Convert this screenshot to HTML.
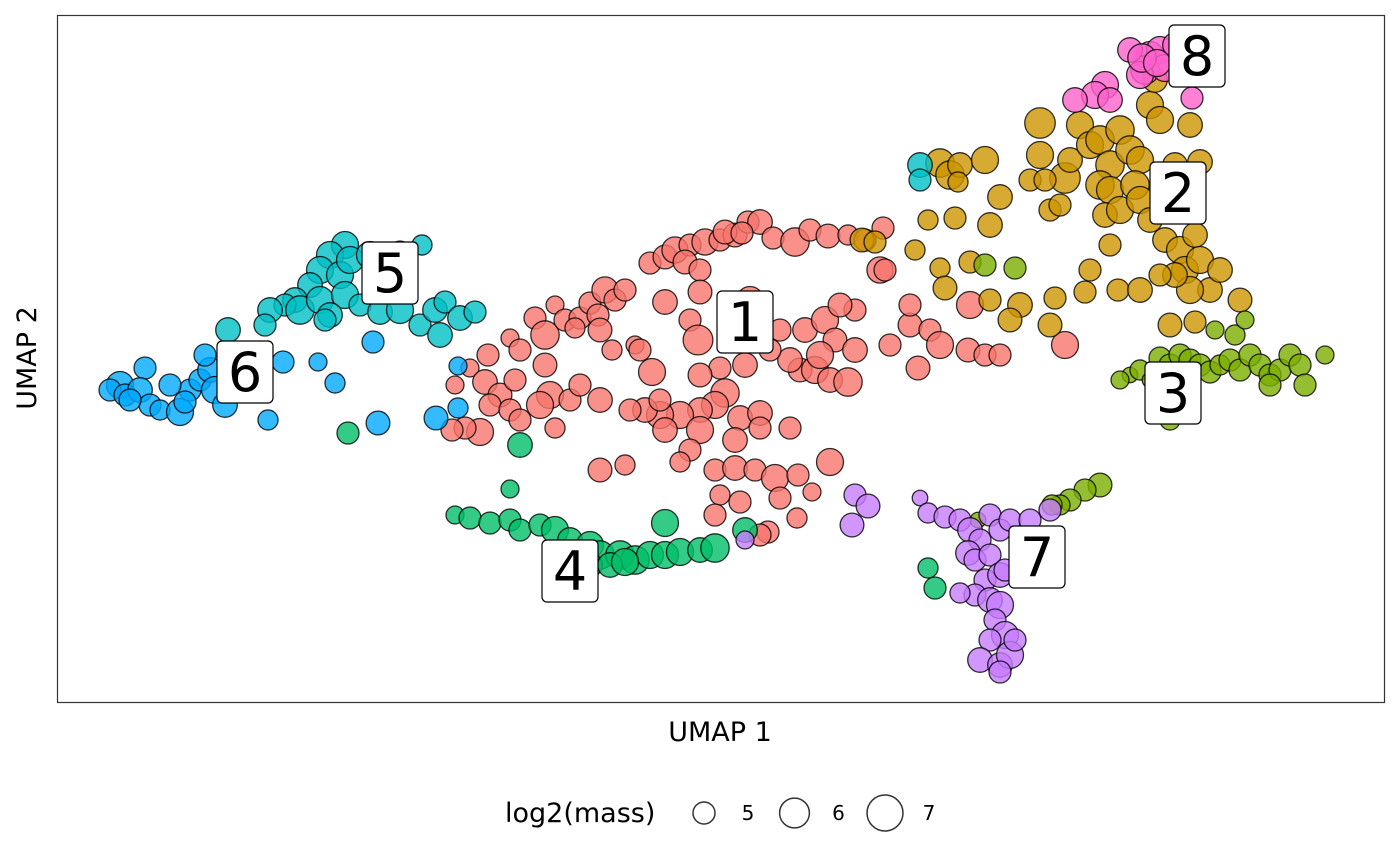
<!DOCTYPE html>
<html><head><meta charset="utf-8"><style>
html,body{margin:0;padding:0;background:#fff;}
svg{display:block;font-family:"DejaVu Sans","Liberation Sans",sans-serif;}
</style></head><body>
<svg id="chart" width="1400" height="865" viewBox="0 0 1400 865">
<rect x="0" y="0" width="1400" height="865" fill="#fff"/>
<rect x="57.5" y="15.5" width="1327" height="687" fill="#fff" stroke="#333" stroke-width="1.2"/>
<g id="points"></g>
<g id="labels"></g>
<text x="720" y="741" font-size="27" text-anchor="middle" fill="#000">UMAP 1</text>
<text x="36" y="358" font-size="27" text-anchor="middle" fill="#000" transform="rotate(-90 36 358)">UMAP 2</text>
<g>
<text x="505" y="822" font-size="27" fill="#000">log2(mass)</text>
<g id="legend"></g>
</g>
</svg>
<script>
const xDomain=[0,13.28], yDomain=[0,6.88];
const clusterIds=["1","2","3","4","5","6","7","8"];
const clusterColors=["#F8766D","#CD9600","#7CAE00","#00BE67","#00BFC4","#00A9FF","#C77CFF","#FF61CC"];
const c1=[[5.93,4.40,5],[6.08,4.46,5.2],[6.18,4.53,5.5],[6.33,4.58,5],[6.48,4.61,5.5],[6.63,4.63,5],[6.78,4.68,5.2],[6.91,4.81,5],[7.03,4.81,5.3],[7.16,4.65,5],[7.38,4.61,5.8],[7.53,4.73,5],[7.71,4.67,5.2],[7.91,4.68,4.8],[8.08,4.63,5],[8.26,4.75,5],[8.23,4.33,5.5],[6.28,4.41,5.2],[6.43,4.33,5],[6.68,4.71,5.2],[6.85,4.70,5],[4.78,3.85,5],[4.88,3.68,5.8],[4.98,3.98,4.6],[5.08,3.83,5],[5.23,3.85,5],[5.33,4.00,5],[5.48,4.13,5.5],[5.58,4.03,5],[5.68,4.13,5],[5.41,3.88,5],[5.18,3.75,4.8],[5.43,3.73,5.2],[4.53,3.65,4.6],[4.31,3.48,5],[4.13,3.35,4.6],[3.98,3.18,4.6],[4.28,3.21,5.3],[4.43,3.08,5.2],[4.58,3.23,5],[4.63,3.53,5],[4.88,3.38,5.2],[4.93,3.08,5.6],[5.13,3.03,5],[5.23,3.18,5],[5.43,3.03,5.3],[4.33,2.98,5],[4.23,2.71,5.6],[4.08,2.75,5],[3.95,2.73,5],[4.53,2.93,5],[4.63,2.83,5],[4.83,2.98,5.6],[4.98,2.75,4.8],[5.78,3.58,4.6],[6.08,4.01,5.3],[6.43,4.11,5.2],[6.33,3.83,5],[6.41,3.63,6],[6.73,3.93,5.2],[6.93,4.03,5.6],[7.03,3.83,5.3],[7.23,3.73,5],[7.48,3.73,5.3],[7.68,3.83,5.6],[7.78,3.63,5.2],[7.98,3.53,5.3],[7.98,3.93,5],[7.83,3.98,5.2],[7.43,3.33,5.2],[7.58,3.33,5.6],[7.73,3.23,5.3],[7.91,3.21,5.8],[7.63,3.48,5.6],[7.33,3.43,5.3],[7.13,3.53,5],[6.88,3.38,5.3],[6.63,3.35,5],[6.43,3.28,5.2],[5.95,3.31,5.6],[5.83,3.53,5],[5.55,3.53,4.8],[6.68,3.10,5.8],[6.58,2.98,5.6],[6.43,2.93,5.3],[6.23,2.88,5.6],[6.03,2.88,5.6],[5.88,2.93,5.3],[5.73,2.93,5],[6.08,2.73,5.3],[6.43,2.73,5.6],[6.83,2.85,5.3],[7.03,2.90,5.3],[7.33,2.75,5],[7.03,2.75,5],[6.78,2.63,5.3],[6.33,2.53,5],[6.23,2.41,4.8],[6.58,2.33,5],[6.78,2.35,5.3],[6.98,2.33,5],[7.18,2.25,5.6],[7.41,2.28,5],[7.73,2.41,5.6],[6.63,2.08,4.8],[6.83,2.01,5],[7.23,2.05,5],[7.55,2.11,4.6],[6.58,1.88,5],[7.40,1.85,4.8],[7.11,1.71,5],[7.03,1.68,5],[5.68,2.38,4.8],[5.43,2.33,5.2],[8.33,3.58,5],[8.53,3.78,5.2],[8.73,3.73,5],[8.53,3.98,5],[8.61,3.35,5.2],[8.83,3.58,5.6],[9.13,3.98,5.6],[9.11,3.53,5.2],[9.28,3.48,5],[9.43,3.48,5],[10.08,3.58,5.6],[8.28,4.33,5],[6.03,3.03,5]];
const c2=[[8.83,5.40,5.8],[8.93,5.28,5.8],[9.03,5.38,5.3],[9.28,5.43,5.6],[9.01,5.21,4.8],[9.43,5.06,5.3],[9.83,5.80,6.1],[9.83,5.48,5.6],[10.08,5.25,6.1],[10.13,5.43,5.3],[10.23,5.78,5.6],[10.33,5.58,5.6],[10.43,5.63,5.8],[10.53,5.38,5.8],[10.63,5.73,5.8],[10.73,5.53,5.8],[10.83,5.43,5.6],[10.43,5.18,5.8],[10.53,5.13,5.6],[10.48,4.88,5.3],[10.63,4.93,5.6],[10.78,5.18,5.8],[10.83,5.03,5.6],[10.93,4.83,5.3],[11.08,4.63,5.3],[11.23,4.53,5.6],[11.28,4.33,5.6],[11.38,4.68,5.3],[11.43,4.43,5.6],[11.53,4.13,5.3],[11.63,4.33,5.3],[11.33,4.13,5.6],[11.18,4.28,5.3],[11.03,4.28,5],[10.93,5.98,5.6],[11.03,5.83,5.6],[11.33,5.78,5.3],[11.43,5.41,5.3],[11.18,5.38,5.3],[9.93,4.93,5],[10.03,4.98,5],[10.53,4.58,5],[10.33,4.33,5],[9.98,4.05,5],[9.93,3.78,5.2],[9.63,3.98,5.3],[9.53,3.83,5.2],[9.33,4.03,5],[9.73,5.23,5],[9.88,5.23,5],[8.98,4.85,5],[8.71,4.83,4.8],[8.58,4.53,4.8],[8.83,4.35,4.8],[8.88,4.15,5.2],[9.13,4.41,5],[9.33,4.78,5.3],[10.61,4.13,5],[10.83,4.13,5.3],[11.13,3.78,5.2],[11.38,3.81,5],[11.83,4.03,5.2],[8.05,4.63,5.2],[8.18,4.61,5],[10.98,6.23,5.3],[10.28,4.11,5]];
const c3=[[10.73,3.28,4.4],[10.83,3.33,4.8],[10.93,3.23,4.4],[11.03,3.45,5],[11.13,3.38,5],[11.23,3.48,5],[11.33,3.43,5],[11.43,3.38,5],[11.53,3.31,5],[11.63,3.38,4.8],[11.73,3.43,5],[11.83,3.33,5],[11.93,3.48,5],[12.03,3.38,5],[12.13,3.28,5],[12.23,3.33,5],[12.33,3.48,5],[12.43,3.38,5],[12.48,3.18,5],[12.68,3.48,4.6],[12.13,3.18,5],[11.58,3.73,4.6],[11.78,3.68,4.8],[11.88,3.83,4.6],[11.13,2.83,4.8],[11.23,2.93,5],[9.28,4.38,5],[9.58,4.35,5],[10.43,2.18,5.2],[10.28,2.13,5],[10.13,2.03,5],[10.03,1.98,4.8],[9.21,1.83,4.4],[9.95,1.98,4.8],[10.63,3.23,4.6]];
const c4=[[3.98,1.88,4.6],[4.13,1.85,5],[4.33,1.80,5],[4.53,1.83,5],[4.53,2.14,4.6],[4.63,1.73,5],[4.83,1.78,5],[4.98,1.73,5.6],[5.13,1.63,5.3],[5.33,1.58,5.6],[5.43,1.48,5.8],[5.63,1.48,5.8],[5.78,1.43,5.8],[5.93,1.48,5.6],[6.08,1.48,5.6],[6.23,1.51,5.6],[6.43,1.53,5.3],[6.58,1.55,5.8],[6.08,1.80,5.6],[6.88,1.73,5.3],[4.63,2.58,5.3],[2.91,2.70,5],[8.71,1.35,4.8],[8.78,1.15,5],[5.33,1.38,5.3],[5.53,1.38,5.3],[5.68,1.41,5.6]];
const c5=[[2.88,4.58,5.6],[2.73,4.48,5.6],[2.63,4.33,5.6],[2.83,4.28,5.6],[2.93,4.43,5.6],[3.13,4.48,5.6],[3.28,4.45,5.3],[3.43,4.51,5],[3.65,4.58,4.8],[2.53,4.18,5.3],[2.38,4.03,5.3],[2.28,3.98,5],[2.13,3.93,5.3],[2.43,3.93,5.8],[2.63,4.03,5.6],[2.88,4.08,5.6],[2.73,3.88,5.3],[2.68,3.83,5],[3.03,3.98,5],[3.23,3.91,5.3],[3.43,3.93,5.6],[3.63,3.78,5],[3.78,3.93,5.3],[3.88,4.01,5],[4.03,3.85,5.3],[4.18,3.91,5],[3.83,3.68,5.3],[2.08,3.78,5],[1.71,3.73,5.3],[8.63,5.38,5.3],[8.63,5.23,5]];
const c6=[[0.88,3.35,5],[0.63,3.18,5.6],[0.53,3.13,5],[0.68,3.08,5],[0.83,3.13,5.3],[0.93,2.98,5],[1.03,2.93,4.8],[1.23,2.91,5.6],[1.33,3.13,5],[1.43,3.23,5],[1.53,3.33,5.3],[1.58,3.13,5.6],[1.68,2.98,5.3],[1.78,3.23,5.3],[1.13,3.18,5],[1.28,3.01,5],[2.26,3.41,5],[2.61,3.41,4.6],[2.78,3.20,4.8],[2.11,2.83,4.8],[3.16,3.61,5],[3.21,2.80,5.2],[3.79,2.85,5.2],[4.01,3.37,4.6],[4.01,2.95,4.8],[1.48,3.48,5],[0.73,3.03,5]];
const c7=[[7.98,2.08,5],[8.11,1.97,5.2],[7.95,1.78,5.2],[8.63,2.05,4.4],[8.71,1.90,4.8],[8.88,1.86,5],[9.03,1.83,5],[9.13,1.73,5.3],[9.23,1.63,5],[9.33,1.88,5],[9.43,1.73,5],[9.53,1.83,5],[9.73,1.83,5],[9.93,1.93,5],[9.11,1.50,5.3],[9.18,1.43,5],[9.33,1.48,5],[9.28,1.23,5],[9.43,1.28,5.3],[9.18,1.08,5],[9.03,1.10,4.8],[9.33,1.03,5.3],[9.43,0.98,5.6],[9.38,0.83,5],[9.48,0.68,5.6],[9.33,0.63,5],[9.23,0.43,5.3],[9.43,0.38,5.3],[9.53,0.48,5.6],[9.58,0.63,5],[9.43,0.31,5],[6.88,1.63,4.6],[9.48,1.33,5]];
const c8=[[10.93,6.48,5.6],[11.03,6.53,5.6],[11.18,6.58,5.3],[11.28,6.48,5],[10.88,6.33,5.8],[11.08,6.35,5.6],[10.83,6.28,5.6],[10.48,6.18,5.6],[10.38,6.08,5.6],[10.18,6.03,5.3],[10.53,6.03,5.3],[11.35,6.05,5],[10.73,6.53,5.3],[10.85,6.45,5.8],[11.00,6.40,5.6]];
const clusterData=[c1,c2,c3,c4,c5,c6,c7,c8];
const labelX=[6.88,11.21,11.16,5.13,3.33,1.88,9.80,11.40];
const labelY=[3.81,5.10,3.10,1.32,4.30,3.31,1.46,6.47];
const legendValues=[5,6,7];

const X=v=>57+(v-xDomain[0])/(xDomain[1]-xDomain[0])*1328;
const Y=v=>703-(v-yDomain[0])/(yDomain[1]-yDomain[0])*688;
const R=s=>Math.sqrt(Math.max(16,121+101*(s-5)));
const NS="http://www.w3.org/2000/svg";
const gp=document.getElementById('points');
clusterData.forEach((pts,ci)=>{
  pts.forEach(p=>{
    const c=document.createElementNS(NS,'circle');
    c.setAttribute('cx',X(p[0]));c.setAttribute('cy',Y(p[1]));c.setAttribute('r',R(p[2]));
    c.setAttribute('fill',clusterColors[ci]);c.setAttribute('fill-opacity','0.8');
    c.setAttribute('stroke','#000');c.setAttribute('stroke-opacity','0.8');c.setAttribute('stroke-width','1.3');
    
    
    gp.appendChild(c);
  });
});
const gl=document.getElementById('labels');
clusterIds.forEach((id,i)=>{
  const g=document.createElementNS(NS,'g');
  
  
  const cx=X(labelX[i]),cy=Y(labelY[i]);
  const r=document.createElementNS(NS,'rect');
  r.setAttribute('x',cx-28);r.setAttribute('y',cy-31);r.setAttribute('width',56);r.setAttribute('height',62);
  r.setAttribute('rx',5);r.setAttribute('fill','#fff');r.setAttribute('stroke','#000');r.setAttribute('stroke-width','1.2');
  g.appendChild(r);
  const t=document.createElementNS(NS,'text');
  t.setAttribute('x',cx);t.setAttribute('y',cy+19);t.setAttribute('font-size','54');t.setAttribute('text-anchor','middle');
  t.textContent=id;g.appendChild(t);
  gl.appendChild(g);
});
const lg=document.getElementById('legend');
legendValues.forEach((v,i)=>{
  const cx=704+i*90.5;
  const c=document.createElementNS(NS,'circle');
  c.setAttribute('cx',cx);c.setAttribute('cy',813);c.setAttribute('r',R(v));
  c.setAttribute('fill','none');c.setAttribute('stroke','#333');c.setAttribute('stroke-width','1.5');
  
  
  lg.appendChild(c);
  const t=document.createElementNS(NS,'text');
  t.setAttribute('x',cx+44);t.setAttribute('y',820);t.setAttribute('font-size','20');t.setAttribute('text-anchor','middle');
  t.textContent=v;
  
  
  lg.appendChild(t);
});
</script>
</body></html>
